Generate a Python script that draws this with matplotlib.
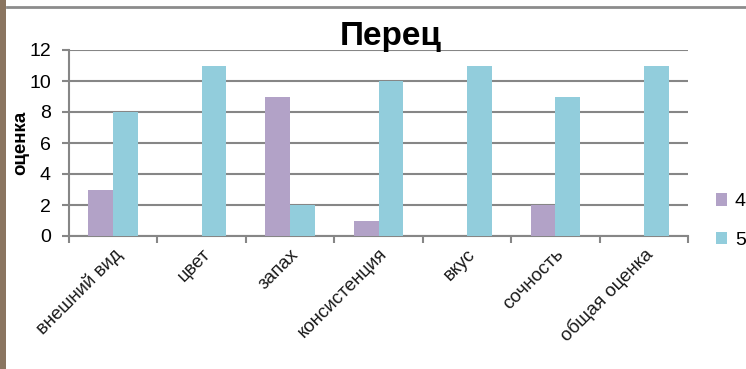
import numpy as np
import matplotlib.pyplot as plt
from matplotlib.patches import Rectangle
from matplotlib.lines import Line2D

# data
categories = ['внешний вид', 'цвет', 'запах', 'консистенция', 'вкус', 'сочность', 'общая оценка']
scores_4 = [3, 0, 9, 1, 0, 2, 0]
scores_5 = [8, 11, 2, 10, 11, 9, 11]
series_names = ['4', '5']
yticks = [0, 2, 4, 6, 8, 10, 12]

col4 = '#B2A2C7'
col5 = '#92CDDC'
grid = '#868686'

plt.rcParams['font.family'] = ['Liberation Sans', 'DejaVu Sans']

fig = plt.figure(figsize=(7.46, 3.69), dpi=100)
W, H = 746, 369

# photo strip on the left edge and border line at the top
fig.patches.append(Rectangle((0, 0), 6 / W, 1, transform=fig.transFigure,
                             facecolor='#8a7560', edgecolor='none'))
fig.lines.append(Line2D([7 / W, 1], [1 - 7 / H, 1 - 7 / H], transform=fig.transFigure,
                        color='#8c8c8c', lw=2))

ax = fig.add_axes([69 / W, 1 - 236 / H, (688 - 69) / W, (236 - 50) / H])
x = np.arange(len(categories))
w = 0.28
ax.bar(x - w / 2, scores_4, w, color=col4, label=series_names[0], zorder=3)
ax.bar(x + w / 2, scores_5, w, color=col5, label=series_names[1], zorder=3)

ax.set_xlim(-0.5, len(categories) - 0.5)
ax.set_ylim(0, 12)
ax.set_yticks(yticks)
ax.yaxis.grid(True, color=grid, lw=1.5, zorder=0)
ax.tick_params(axis='y', length=5, width=1.5, color=grid, labelsize=14, pad=8)
ax.set_xticks(np.arange(len(categories) + 1) - 0.5)
ax.set_xticklabels([])
ax.set_xticks(x, minor=True)
ax.set_xticklabels(categories, minor=True, rotation=45, ha='right', rotation_mode='anchor',
                   fontsize=13.5, color='#1a1a1a')
ax.tick_params(axis='x', which='major', length=5, width=1.5, color=grid, direction='out')
ax.tick_params(axis='x', which='minor', length=0, pad=7)
for s in ['top', 'right']:
    ax.spines[s].set_visible(False)
ax.spines['left'].set_color(grid)
ax.spines['left'].set_linewidth(1.5)
ax.spines['bottom'].set_color(grid)
ax.spines['bottom'].set_linewidth(1.5)

ax.set_ylabel('оценка', fontsize=13.5, fontweight='bold')
ax.yaxis.set_label_coords((29 - 69) / (688 - 69), 0.5)
fig.text(391 / W, 1 - 36 / H, 'Перец', fontsize=24, fontweight='bold', ha='center', va='center')

fig.legend(handles=ax.patches[:1] + ax.patches[len(categories):len(categories) + 1],
           labels=series_names, loc='center left', bbox_to_anchor=(698 / W, 1 - 221 / H),
           frameon=False, fontsize=14, handlelength=0.6, handleheight=0.6,
           labelspacing=1.1, handletextpad=0.4)

fig.savefig('out.png', dpi=100)
